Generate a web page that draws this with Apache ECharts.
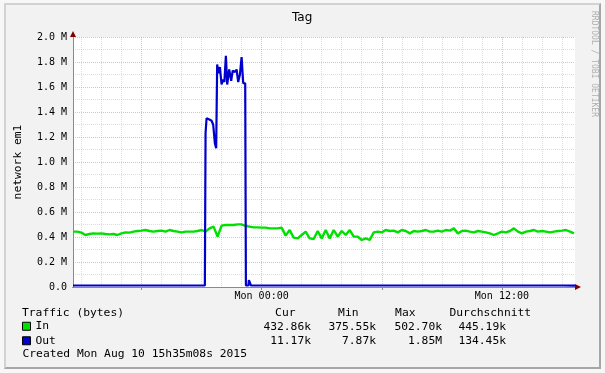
<!DOCTYPE html>
<html><head><meta charset="utf-8">
<script src="https://cdn.jsdelivr.net/npm/echarts@6/dist/echarts.min.js"></script>
<style>
html,body{margin:0;padding:0;background:#f7f7f7;}
#frame{position:absolute;left:4px;top:3px;width:593px;height:362px;background:#f2f2f2;border-left:2px solid #d2d2d2;border-top:2px solid #d2d2d2;border-right:2px solid #a6a6a6;border-bottom:2px solid #a6a6a6;}
#c{position:absolute;left:0;top:0;width:605px;height:373px;}
</style>
</head><body><div id="frame"></div><div id="c"></div>
<script>
// ---- data (x in hours since Sun 00:00, values in kB/s) ----
const titleText = 'Tag';
const yAxisName = 'network em1';
const yMax = 2000000, yStep = 200000;
const yTickLabels = ['0.0', '0.2 M', '0.4 M', '0.6 M', '0.8 M', '1.0 M', '1.2 M', '1.4 M', '1.6 M', '1.8 M', '2.0 M'];
const xStartHour = 14.58, xEndHour = 39.65;
const xLabelHours = [24, 36];
const xLabelTexts = ['Mon 00:00', 'Mon 12:00'];
const majorHours = [18, 24, 30, 36];

const inStartHour = 14.6, inStepHour = 0.2;
const inValuesK = [
  443, 443, 435, 416, 424, 429, 427, 429, 424, 421,
  424, 416, 429, 437, 435, 443, 448, 451, 456, 448,
  443, 448, 451, 443, 456, 448, 443, 437, 443, 443,
  443, 448, 456, 443, 469, 483, 403, 491, 496, 496,
  496, 501, 501, 488, 483, 477, 477, 475, 475, 469,
  469, 469, 475, 411, 456, 395, 389, 416, 443, 389,
  384, 448, 389, 456, 389, 456, 403, 448, 416, 456,
  403, 403, 376, 389, 376, 437, 443, 437, 456, 448,
  451, 437, 456, 448, 429, 448, 443, 448, 456, 443,
  443, 451, 443, 456, 451, 469, 429, 448, 451, 443,
  437, 448, 443, 437, 429, 416, 429, 443, 437, 448,
  469, 443, 429, 443, 448, 456, 443, 448, 443, 437,
  443, 448, 451, 456, 443, 429
];

const outPointsK = [
  [14.58, 12], [17.915, 12], [17.99, 22], [18.065, 12], [21.165, 12],
  [21.2, 1230], [21.25, 1350], [21.39, 1340], [21.5, 1330], [21.58, 1300],
  [21.665, 1150], [21.73, 1110], [21.78, 1780], [21.84, 1710], [21.915, 1760],
  [22.0, 1620], [22.065, 1660], [22.14, 1640], [22.215, 1850], [22.28, 1620],
  [22.38, 1740], [22.48, 1650], [22.555, 1730], [22.665, 1720], [22.75, 1740],
  [22.83, 1640], [22.915, 1700], [23.0, 1840], [23.08, 1630], [23.18, 1630],
  [23.215, 12], [23.34, 12], [23.365, 55], [23.44, 55], [23.465, 12],
  [31.365, 12], [31.415, 25], [31.465, 12], [31.715, 12], [31.765, 25],
  [31.815, 12], [38.965, 12], [39.015, 25], [39.065, 12], [39.65, 11]
];

const legendNames = ['In', 'Out'];
const legendColors = ['#00E000', '#0000CC'];
const legendTitle = 'Traffic (bytes)';
const statHeaders = ['Cur', 'Min', 'Max', 'Durchschnitt'];
const statsIn = ['432.86k', '375.55k', '502.70k', '445.19k'];
const statsOut = ['11.17k', '7.87k', '1.85M', '134.45k'];
const createdText = 'Created Mon Aug 10 15h35m08s 2015';
const watermark = 'RRDTOOL / TOBI OETIKER';

// ---- build ----
const mono = '"DejaVu Sans Mono"';
const inData = inValuesK.map((v, i) => [+(inStartHour + i * inStepHour).toFixed(3), v * 1000]);
const outData = outPointsK.map(p => [p[0], p[1] * 1000]);
const minorHours = [];
for (let h = Math.ceil(xStartHour); h <= Math.floor(xEndHour); h++) {
  if (majorHours.indexOf(h) < 0) minorHours.push(h);
}
const minorColor = 'rgba(150,150,150,0.32)';
const majorColor = 'rgba(220,100,100,0.45)';
const arrowColor = '#7f0000';
const axisColor = '#8a8a8a';

function txt(x, y, text, align, extra) {
  return Object.assign({
    type: 'text', x: x, y: y, silent: true,
    style: { text: text, font: '11.3px ' + mono, fill: '#000', align: align, verticalAlign: 'middle' }
  }, extra || {});
}
const colRight = [311, 376, 442, 506];
const headRight = [295.5, 358.5, 415.5];
const graphics = [
  txt(22, 313.3, legendTitle, 'left'),
  txt(headRight[0], 313.3, statHeaders[0], 'right'),
  txt(headRight[1], 313.3, statHeaders[1], 'right'),
  txt(headRight[2], 313.3, statHeaders[2], 'right'),
  txt(449.5, 313.3, statHeaders[3], 'left'),
  txt(22.5, 354, createdText, 'left')
];
statsIn.forEach((s, i) => graphics.push(txt(colRight[i], 326.7, s, 'right')));
statsOut.forEach((s, i) => graphics.push(txt(colRight[i], 341, s, 'right')));
graphics.push({
  type: 'text', x: 594.5, y: 64, rotation: -Math.PI / 2, silent: true,
  style: { text: watermark, font: '8px ' + mono, fill: '#b0b0b0', align: 'center', verticalAlign: 'middle' }
});

const chart = echarts.init(document.getElementById('c'));
chart.setOption({
  animation: false,
  title: { text: titleText, left: 292, top: 11.5, padding: 0,
    textStyle: { fontFamily: '"DejaVu Sans"', fontSize: 12, fontWeight: 'normal', color: '#000' } },
  grid: { left: 73, right: 30, top: 37, bottom: 86, show: true, backgroundColor: '#fff', borderWidth: 0 },
  legend: {
    data: legendNames, orient: 'vertical', left: 22, top: 319, padding: 0, itemGap: 0,
    itemWidth: 8, itemHeight: 8, icon: 'rect', selectedMode: false,
    itemStyle: { borderColor: '#000', borderWidth: 1 },
    textStyle: { fontFamily: mono, fontSize: 11.3, color: '#000', lineHeight: 14.5 }
  },
  xAxis: [
    {
      type: 'value', min: xStartHour, max: xEndHour, position: 'bottom',
      axisLine: { show: true, onZero: false, lineStyle: { color: arrowColor, width: 1 },
        symbol: ['none', 'triangle'], symbolSize: [6, 6], symbolOffset: [0, 3] },
      axisTick: { show: false, customValues: minorHours },
      axisLabel: { customValues: xLabelHours, formatter: v => xLabelTexts[xLabelHours.indexOf(v)],
        fontFamily: mono, fontSize: 10, color: '#000', margin: 4 },
      splitLine: { show: true, lineStyle: { color: minorColor, type: [1, 1] } }
    },
    {
      type: 'value', min: xStartHour, max: xEndHour, position: 'bottom',
      axisLine: { show: true, onZero: false, lineStyle: { color: axisColor, width: 1 } },
      axisTick: { show: true, customValues: majorHours, length: 3, lineStyle: { color: axisColor } },
      axisLabel: { show: false },
      splitLine: { show: true, lineStyle: { color: majorColor, type: [1, 1] } }
    }
  ],
  yAxis: [
    {
      type: 'value', min: 0, max: yMax, interval: yStep,
      name: yAxisName, nameLocation: 'middle', nameGap: 49, nameRotate: 90,
      nameTextStyle: { fontFamily: mono, fontSize: 11.3, color: '#000' },
      axisLine: { show: true, onZero: false, lineStyle: { color: arrowColor, width: 1 },
        symbol: ['none', 'triangle'], symbolSize: [6, 6], symbolOffset: [0, 3] },
      axisTick: { show: false },
      axisLabel: { fontFamily: mono, fontSize: 10, color: '#000', margin: 6,
        formatter: (v) => yTickLabels[Math.round(v / yStep)] },
      splitLine: { show: true, lineStyle: { color: majorColor, type: [1, 1] } },
      minorTick: { show: false, splitNumber: 2 },
      minorSplitLine: { show: true, lineStyle: { color: minorColor, type: [1, 1] } }
    },
    {
      type: 'value', min: 0, max: yMax, position: 'left',
      axisLine: { show: true, onZero: false, lineStyle: { color: axisColor, width: 1 } },
      axisTick: { show: false }, axisLabel: { show: false }, splitLine: { show: false }
    }
  ],
  series: [
    { name: legendNames[0], type: 'line', data: inData, showSymbol: false, symbol: 'none',
      xAxisIndex: 0, yAxisIndex: 0, z: 3,
      lineStyle: { color: legendColors[0], width: 2.4 }, itemStyle: { color: legendColors[0] } },
    { name: legendNames[1], type: 'line', data: outData, showSymbol: false, symbol: 'none',
      xAxisIndex: 0, yAxisIndex: 0, z: 4,
      lineStyle: { color: legendColors[1], width: 2.2 }, itemStyle: { color: legendColors[1] } }
  ],
  graphic: graphics
});
</script>
</body></html>
